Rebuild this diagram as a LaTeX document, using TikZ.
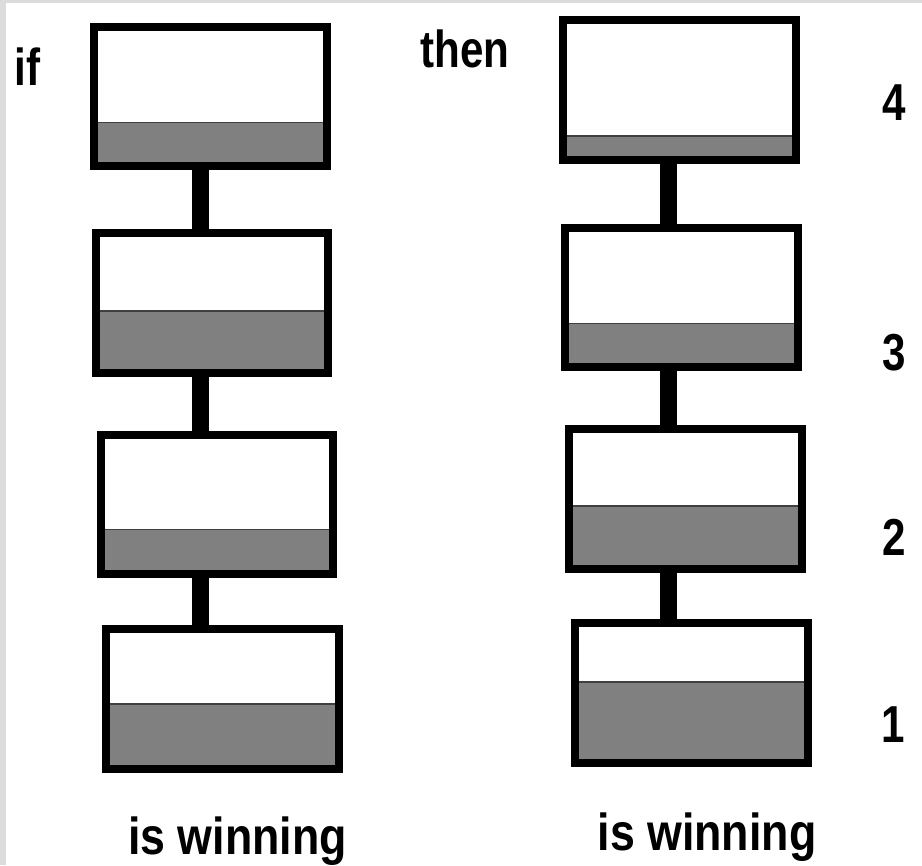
\documentclass[tikz,border=0pt]{standalone}
\usepackage{fontspec}
\setmainfont{Liberation Sans}
\usepackage{graphicx}
\newcommand{\narrow}[2][0.81]{\scalebox{#1}[1]{#2}}
\definecolor{level}{HTML}{808080}
\definecolor{frame}{HTML}{DCDCDC}
\tikzset{
  tank/.style={draw, line width=0.16cm, fill=white, inner sep=0pt,
    minimum width=4.66cm, minimum height=2.8cm,
    path picture={
      \fill[level] (path picture bounding box.south west) rectangle
        ([yshift=#1*0.02cm]path picture bounding box.south east);
      \draw[black!75, line width=0.025cm]
        ([yshift=#1*0.02cm]path picture bounding box.south west) --
        ([yshift=#1*0.02cm]path picture bounding box.south east);
    }},
  stem/.style={line width=0.34cm},
  lbl/.style={inner sep=0pt, font=\fontsize{29.6}{34}\selectfont\bfseries}
}

\begin{document}
\begin{tikzpicture}[x=0.02cm,y=-0.02cm]
		\useasboundingbox (0,0) rectangle (922,865);
		\fill[frame] (0,0) rectangle (922,865);
		\fill[white] (6,3) rectangle (922,865);
		% colonne gauche
		\node[tank=44] (l4) at (210.5,96.5) {};
		\node[tank=62] (l3) at (212,303) {};
		\node[tank=45] (l2) at (217,504.5) {};
		\node[tank=65] (l1) at (222.5,699) {};
		% colonne droite
		\node[tank=24] (r4) at (679.5,90) {};
		\node[tank=44] (r3) at (681.5,297.5) {};
		\node[tank=63] (r2) at (685.5,499) {};
		\node[tank=81] (r1) at (691.5,693) {};
		% tiges
		\coordinate (sl) at (200,0);
		\coordinate (sr) at (668.5,0);
		\draw[stem] (l4.south -| sl) -- (l3.north -| sl);
		\draw[stem] (l3.south -| sl) -- (l2.north -| sl);
		\draw[stem] (l2.south -| sl) -- (l1.north -| sl);
		\draw[stem] (r4.south -| sr) -- (r3.north -| sr);
		\draw[stem] (r3.south -| sr) -- (r2.north -| sr);
		\draw[stem] (r2.south -| sr) -- (r1.north -| sr);
		% textes
		\node[lbl, anchor=base west] (ifl) at (14,86) {\narrow{if}};
		\node[lbl, anchor=base west] (thenl) at (420,68) {\narrow{then}};
		\node[lbl, anchor=base] (n4) at (894.5,120) {\narrow{4}};
		\node[lbl, anchor=base] (n3) at (894,370) {\narrow{3}};
		\node[lbl, anchor=base] (n2) at (894,555) {\narrow{2}};
		\node[lbl, anchor=base] (n1) at (893.5,742) {\narrow{1}};
		\node[lbl, anchor=base] (wl) at (237.5,854) {\narrow[0.86]{is winning}};
		\node[lbl, anchor=base] (wr) at (707,850) {\narrow[0.86]{is winning}};
\end{tikzpicture}
\end{document}
